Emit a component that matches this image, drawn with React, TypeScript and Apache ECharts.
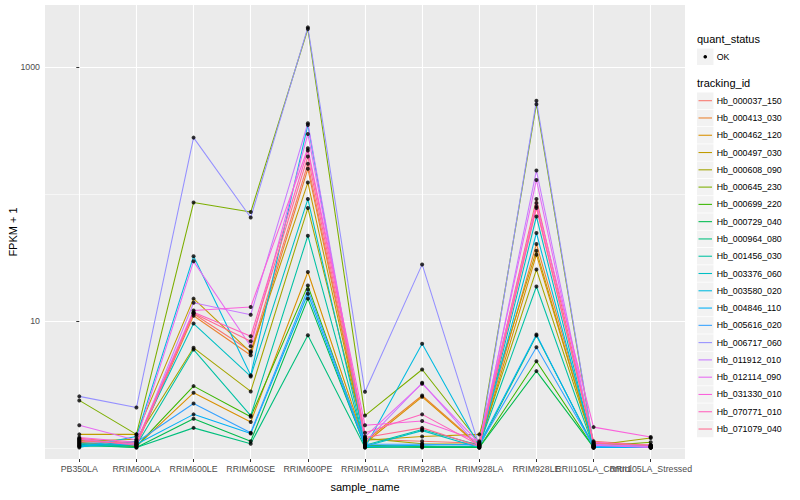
import React, { useEffect, useRef } from "react";
import * as echarts from "echarts";

const categories = [
  "PB350LA",
  "RRIM600LA",
  "RRIM600LE",
  "RRIM600SE",
  "RRIM600PE",
  "RRIM901LA",
  "RRIM928BA",
  "RRIM928LA",
  "RRIM928LE",
  "RRII105LA_Control",
  "RRII105LA_Stressed",
];

const trackingIds = [
  "Hb_000037_150",
  "Hb_000413_030",
  "Hb_000462_120",
  "Hb_000497_030",
  "Hb_000608_090",
  "Hb_000645_230",
  "Hb_000699_220",
  "Hb_000729_040",
  "Hb_000964_080",
  "Hb_001456_030",
  "Hb_003376_060",
  "Hb_003580_020",
  "Hb_004846_110",
  "Hb_005616_020",
  "Hb_006717_060",
  "Hb_011912_010",
  "Hb_012114_090",
  "Hb_031330_010",
  "Hb_070771_010",
  "Hb_071079_040",
];

const lineColors = [
  "#F8766D", "#EA8331", "#D89000", "#C09B00", "#A3A500",
  "#7CAE00", "#39B600", "#00BB4E", "#00BF7D", "#00C1A3",
  "#00BFC4", "#00BAE0", "#00B0F6", "#35A2FF", "#9590FF",
  "#C77CFF", "#E76BF3", "#FA62DB", "#FF62BC", "#FF6C91",
];

// FPKM + 1 per sample, in the order of `categories`
const hb000037_150 = [1.19, 1.09, 11.4, 5.78, 173, 1.17, 1.13, 1.09, 91.2, 1.13, 1.05];
const hb000413_030 = [1.15, 1.05, 11.0, 5.37, 158, 1.13, 2.59, 1.05, 40.4, 1.09, 1.03];
const hb000462_120 = [1.11, 1.03, 2.72, 1.6, 24.3, 1.09, 2.53, 1.03, 33.3, 1.05, 1.01];
const hb000497_030 = [1.28, 1.28, 15.0, 5.65, 123, 1.15, 1.23, 1.28, 35.8, 1.03, 1.03];
const hb000608_090 = [1.13, 1.17, 6.15, 2.79, 77.5, 1.19, 1.08, 1.07, 25.4, 1.05, 1.2];
const hb000645_230 = [2.37, 1.28, 85.7, 72.1, 1991, 1.8, 4.15, 1.11, 509, 1.03, 1.11];
const hb000699_220 = [1.09, 1.03, 3.07, 1.76, 19.0, 1.05, 1.03, 1.01, 4.82, 1.01, 1.03];
const hb000729_040 = [1.05, 1.01, 1.7, 1.13, 15.0, 1.03, 1.01, 1.01, 4.03, 1.01, 1.01];
const hb000964_080 = [1.07, 1.01, 1.44, 1.08, 7.72, 1.01, 1.02, 1.03, 7.67, 1.03, 1.03];
const hb001456_030 = [1.03, 1.05, 5.96, 1.8, 46.9, 1.05, 1.4, 1.05, 18.7, 1.01, 1.01];
const hb003376_060 = [1.03, 1.13, 9.55, 3.66, 91.2, 1.03, 1.37, 1.01, 66.5, 1.01, 1.03];
const hb003580_020 = [1.01, 1.23, 32.3, 3.74, 350, 1.01, 6.61, 1.03, 49.3, 1.03, 1.01];
const hb004846_110 = [1.05, 1.07, 1.84, 1.3, 16.4, 1.03, 1.05, 1.07, 7.82, 1.01, 1.01];
const hb005616_020 = [1.09, 1.11, 2.24, 1.32, 17.7, 1.07, 1.07, 1.05, 6.21, 1.03, 1.03];
const hb006717_060 = [2.55, 2.08, 278, 65.3, 2051, 2.77, 27.9, 1.03, 543, 1.05, 1.05];
const hb011912_010 = [1.17, 1.07, 13.9, 11.2, 361, 1.11, 3.26, 1.01, 153, 1.07, 1.02];
const hb012114_090 = [1.51, 1.15, 29.5, 6.33, 297, 1.23, 3.21, 1.09, 129, 1.05, 1.01];
const hb031330_010 = [1.21, 1.11, 12.1, 12.9, 229, 1.51, 1.63, 1.13, 84.8, 1.46, 1.22];
const hb070771_010 = [1.17, 1.05, 11.7, 7.58, 220, 1.32, 1.84, 1.05, 79.8, 1.11, 1.05];
const hb071079_040 = [1.13, 1.09, 11.5, 6.92, 197, 1.21, 1.44, 1.03, 77.5, 1.09, 1.05];

const seriesValues = [
  hb000037_150, hb000413_030, hb000462_120, hb000497_030, hb000608_090,
  hb000645_230, hb000699_220, hb000729_040, hb000964_080, hb001456_030,
  hb003376_060, hb003580_020, hb004846_110, hb005616_020, hb006717_060,
  hb011912_010, hb012114_090, hb031330_010, hb070771_010, hb071079_040,
];

const yMajorTicks = [10, 1000];
const yMinorTicks = [1, 100];
const xTickPositions = categories.map((_, i) => i);
const xEvenPositions = xTickPositions.filter((i) => i % 2 === 0);
const xOddPositions = xTickPositions.filter((i) => i % 2 === 1);

const FONT = "'Liberation Sans', Arial, Helvetica, sans-serif";

export default function App() {
  const ref = useRef<HTMLDivElement>(null);

  useEffect(() => {
    if (!ref.current) return;
    const chart = echarts.init(ref.current, undefined, { renderer: "svg" });

    const yMin = 0.819;
    const yMax = 3078;

    const lineSeries = seriesValues.map((vals, k) => ({
      name: trackingIds[k],
      type: "line",
      xAxisIndex: 0,
      yAxisIndex: 1,
      data: vals.map((v, i) => [i, v]),
      showSymbol: false,
      symbol: "none",
      lineStyle: { color: lineColors[k], width: 1.07 },
      itemStyle: { color: lineColors[k] },
      z: 2,
      silent: true,
    }));

    const pointData: number[][] = [];
    seriesValues.forEach((vals) => vals.forEach((v, i) => pointData.push([i, v])));

    const legendGraphics: any[] = [];
    const lx = 697;
    legendGraphics.push({
      type: "text",
      left: lx,
      top: 33,
      style: { text: "quant_status", font: `11px ${FONT}`, fill: "#000" },
    });
    legendGraphics.push({
      type: "rect",
      shape: { x: lx, y: 48.5, width: 16.5, height: 16.5 },
      style: { fill: "#F2F2F2" },
    });
    legendGraphics.push({
      type: "circle",
      shape: { cx: lx + 8.25, cy: 56.75, r: 1.8 },
      style: { fill: "#000" },
    });
    legendGraphics.push({
      type: "text",
      x: 716.7,
      y: 56.75,
      style: { text: "OK", font: `8.8px ${FONT}`, fill: "#000", textVerticalAlign: "middle" },
    });
    legendGraphics.push({
      type: "text",
      left: lx,
      top: 77,
      style: { text: "tracking_id", font: `11px ${FONT}`, fill: "#000" },
    });
    trackingIds.forEach((id, i) => {
      const cy = 100.7 + i * 17.28;
      legendGraphics.push({
        type: "rect",
        shape: { x: lx, y: cy - 8.25, width: 16.5, height: 16.5 },
        style: { fill: "#F2F2F2" },
      });
      legendGraphics.push({
        type: "line",
        shape: { x1: lx + 1.5, y1: cy, x2: lx + 15, y2: cy },
        style: { stroke: lineColors[i], lineWidth: 1.07 },
      });
      legendGraphics.push({
        type: "text",
        x: 716.7,
        y: cy,
        style: { text: id, font: `8.8px ${FONT}`, fill: "#000", textVerticalAlign: "middle" },
      });
    });

    const xLabelBase = {
      formatter: (v: number) => categories[Math.round(v)] ?? "",
      color: "#4D4D4D",
      fontSize: 8.8,
      fontFamily: FONT,
      margin: 5,
      hideOverlap: false,
      showMinLabel: true,
      showMaxLabel: true,
    };

    chart.setOption({
      animation: false,
      backgroundColor: "#FFFFFF",
      textStyle: { fontFamily: FONT },
      grid: {
        left: 45,
        right: 115,
        top: 5,
        bottom: 41,
        show: true,
        backgroundColor: "#EBEBEB",
        borderWidth: 0,
        containLabel: false,
        outerBoundsMode: "none",
      },
      xAxis: [
        {
          type: "value",
          min: -0.6,
          max: 10.6,
          position: "bottom",
          axisLine: { show: false },
          axisTick: {
            show: true,
            length: 3,
            lineStyle: { color: "#333333", width: 1 },
            customValues: xEvenPositions,
          },
          axisLabel: { ...xLabelBase, customValues: xEvenPositions },
          splitLine: { show: true, lineStyle: { color: "#FFFFFF", width: 1.1 } },
          name: "sample_name",
          nameLocation: "middle",
          nameGap: 22,
          nameTextStyle: { fontSize: 11, color: "#000", fontFamily: FONT },
        },
        {
          type: "value",
          min: -0.6,
          max: 10.6,
          position: "bottom",
          offset: 0,
          axisLine: { show: false },
          axisTick: {
            show: true,
            length: 3,
            lineStyle: { color: "#333333", width: 1 },
            customValues: xOddPositions,
          },
          axisLabel: { ...xLabelBase, customValues: xOddPositions },
          splitLine: { show: true, lineStyle: { color: "#FFFFFF", width: 1.1 } },
        },
      ],
      yAxis: [
        {
          type: "log",
          logBase: 10,
          min: yMin,
          max: yMax,
          position: "left",
          axisLine: { show: false },
          axisTick: { show: false, customValues: yMinorTicks },
          axisLabel: { show: false, customValues: yMinorTicks },
          splitLine: { show: true, lineStyle: { color: "#FFFFFF", width: 0.55 } },
        },
        {
          type: "log",
          logBase: 10,
          min: yMin,
          max: yMax,
          position: "left",
          axisLine: { show: false },
          axisTick: {
            show: true,
            length: 3,
            lineStyle: { color: "#333333", width: 1 },
            customValues: yMajorTicks,
          },
          axisLabel: {
            customValues: yMajorTicks,
            formatter: (v: number) => String(Math.round(v)),
            color: "#4D4D4D",
            fontSize: 8.8,
            fontFamily: FONT,
            margin: 5,
          },
          splitLine: { show: true, lineStyle: { color: "#FFFFFF", width: 1.1 } },
          name: "FPKM + 1",
          nameLocation: "middle",
          nameRotate: 90,
          nameGap: 27,
          nameMoveOverlap: false,
          nameTextStyle: { fontSize: 11, color: "#000", fontFamily: FONT },
        },
      ],
      series: [
        ...lineSeries,
        {
          name: "quant_status",
          type: "scatter",
          xAxisIndex: 0,
          yAxisIndex: 1,
          data: pointData,
          symbol: "circle",
          symbolSize: 4,
          itemStyle: { color: "#000000" },
          z: 5,
          silent: true,
        },
      ],
      graphic: legendGraphics,
    });

    return () => {
      chart.dispose();
    };
  }, []);

  return (
    <div
      ref={ref}
      style={{ position: "absolute", left: 0, top: 0, width: "800px", height: "500px" }}
    />
  );
}
